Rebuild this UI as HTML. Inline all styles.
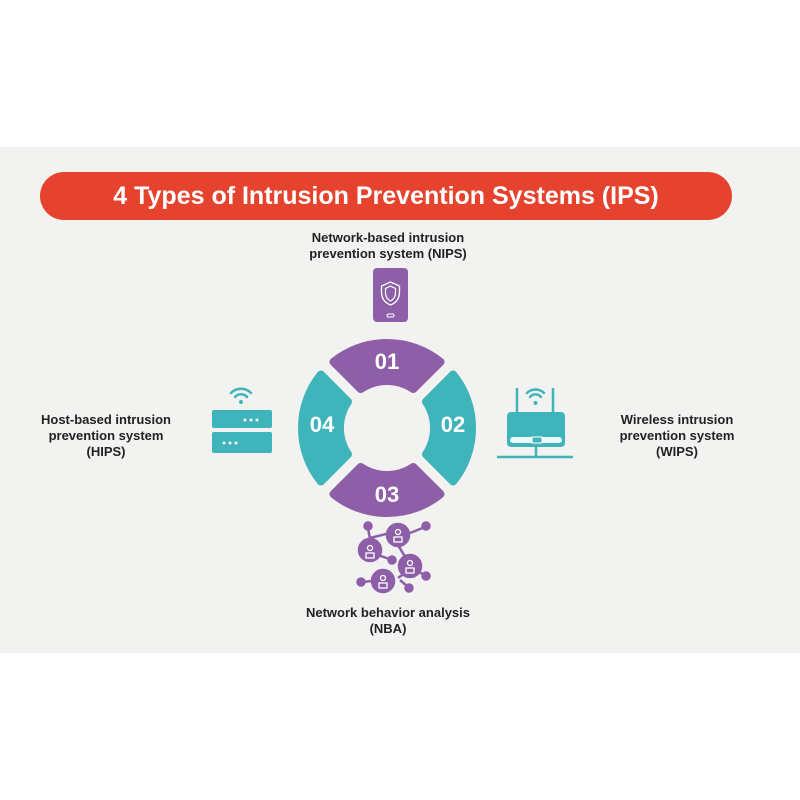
<!DOCTYPE html>
<html><head><style>
body{margin:0;width:800px;height:800px;background:#fff;position:relative;font-family:"Liberation Sans",sans-serif;overflow:hidden}
.panel{position:absolute;left:0;top:147px;width:800px;height:506px;background:#f2f2f1}
.pill{position:absolute;left:40px;top:172px;width:692px;height:48px;border-radius:24px;background:#e6432f;color:#fff;font-weight:bold;font-size:25px;text-align:center;line-height:48px}
.t{position:absolute;font-weight:bold;font-size:13px;color:#222;text-align:center;line-height:16px}
</style></head><body>
<div class="panel"></div>
<div class="pill">4 Types of Intrusion Prevention Systems (IPS)</div>
<div class="t" style="left:288px;top:230px;width:200px">Network-based intrusion<br>prevention system (NIPS)</div>
<div class="t" style="left:16px;top:412px;width:180px">Host-based intrusion<br>prevention system<br>(HIPS)</div>
<div class="t" style="left:587px;top:412px;width:180px">Wireless intrusion<br>prevention system<br>(WIPS)</div>
<div class="t" style="left:278px;top:605px;width:220px">Network behavior analysis<br>(NBA)</div>
<svg width="800" height="800" style="position:absolute;left:0;top:0">
<defs><path id="seg" d="M333.5,361.9 A85,85 0 0 1 440.5,361.9 L413.3,389 A47,47 0 0 0 360.7,389 Z" stroke-width="8" stroke-linejoin="round"/></defs>
<use href="#seg" fill="#8e5fa8" stroke="#8e5fa8"/>
<use href="#seg" fill="#8e5fa8" stroke="#8e5fa8" transform="rotate(180 387 428)"/>
<use href="#seg" fill="#3fb4ba" stroke="#3fb4ba" transform="rotate(90 387 428)"/>
<use href="#seg" fill="#3fb4ba" stroke="#3fb4ba" transform="rotate(270 387 428)"/>
<g fill="#fff" font-weight="bold" font-size="22" text-anchor="middle" font-family="Liberation Sans">
<text x="387" y="369">01</text><text x="453" y="432">02</text><text x="387" y="502">03</text><text x="322" y="432">04</text></g>
<!-- phone -->
<rect x="373" y="268" width="35" height="54" rx="4" fill="#8e5fa8"/>
<path d="M390.5,282 l9,4 v6 c0,7 -4,11 -9,13 c-5,-2 -9,-6 -9,-13 v-6z" fill="none" stroke="#fff" stroke-width="1.3"/>
<path d="M390.5,286 l5,2.5 v4 c0,4 -2,7 -5,8.5 c-3,-1.5 -5,-4.5 -5,-8.5 v-4z" fill="none" stroke="#fff" stroke-width="1.2"/>
<rect x="387" y="314" width="7" height="3" rx="1.5" fill="none" stroke="#fff"/>
<!-- server -->
<g fill="#3fb4ba"><rect x="212" y="410" width="60" height="18" rx="2"/><rect x="212" y="432" width="60" height="21" rx="2"/></g>
<g fill="#fff"><circle cx="245" cy="420" r="1.5"/><circle cx="251" cy="420" r="1.5"/><circle cx="257" cy="420" r="1.5"/>
<circle cx="224" cy="443" r="1.5"/><circle cx="230" cy="443" r="1.5"/><circle cx="236" cy="443" r="1.5"/></g>
<g fill="none" stroke="#3fb4ba" stroke-width="2.5" stroke-linecap="round"><path d="M231,393 a14,14 0 0 1 20,0"/><path d="M235,397 a8,8 0 0 1 12,0"/></g>
<circle cx="241" cy="402" r="2" fill="#3fb4ba"/>
<!-- router -->
<rect x="507" y="412" width="58" height="35" rx="4" fill="#3fb4ba"/>
<g stroke="#3fb4ba" stroke-width="2.5"><line x1="517" y1="388" x2="517" y2="412"/><line x1="553" y1="388" x2="553" y2="412"/><line x1="536" y1="447" x2="536" y2="457"/><line x1="497" y1="457" x2="573" y2="457"/></g>
<g fill="none" stroke="#3fb4ba" stroke-width="2.5" stroke-linecap="round"><path d="M527,393 a12,12 0 0 1 17,0"/><path d="M530,397 a7,7 0 0 1 11,0"/></g>
<circle cx="535.5" cy="403" r="2" fill="#3fb4ba"/>
<rect x="510" y="437" width="52" height="6" rx="3" fill="#fff" opacity=".9"/>
<rect x="532" y="437" width="10" height="6" fill="#3fb4ba" stroke="#fff"/>
<!-- NBA -->
<g stroke="#8e5fa8" stroke-width="2.5" fill="#8e5fa8">
<line x1="370" y1="538" x2="390" y2="533"/><line x1="368" y1="528" x2="372" y2="550"/><line x1="395" y1="540" x2="410" y2="565"/><line x1="410" y1="533" x2="425" y2="527"/><line x1="378" y1="555" x2="392" y2="560"/><line x1="410" y1="568" x2="425" y2="575"/><line x1="382" y1="580" x2="362" y2="582"/><line x1="398" y1="578" x2="412" y2="568"/><line x1="400" y1="580" x2="408" y2="587"/>
<circle cx="368" cy="526" r="3.5"/><circle cx="426" cy="526" r="3.5"/><circle cx="392" cy="560" r="3.5"/><circle cx="426" cy="576" r="3.5"/><circle cx="361" cy="582" r="3.5"/><circle cx="409" cy="588" r="3.5"/>
<circle cx="370" cy="550" r="11"/><circle cx="398" cy="535" r="11"/><circle cx="410" cy="566" r="11"/><circle cx="383" cy="581" r="11"/></g>
<g fill="none" stroke="#fff" stroke-width="1.3"><circle cx="370" cy="548" r="2.5"/><circle cx="398" cy="532" r="2.5"/><circle cx="410" cy="563" r="2.5"/><circle cx="383" cy="578" r="2.5"/>
<rect x="366" y="553" width="8" height="5"/><rect x="394" y="537" width="8" height="5"/><rect x="406" y="568" width="8" height="5"/><rect x="379" y="583" width="8" height="5"/></g>
</svg>
</body></html>
